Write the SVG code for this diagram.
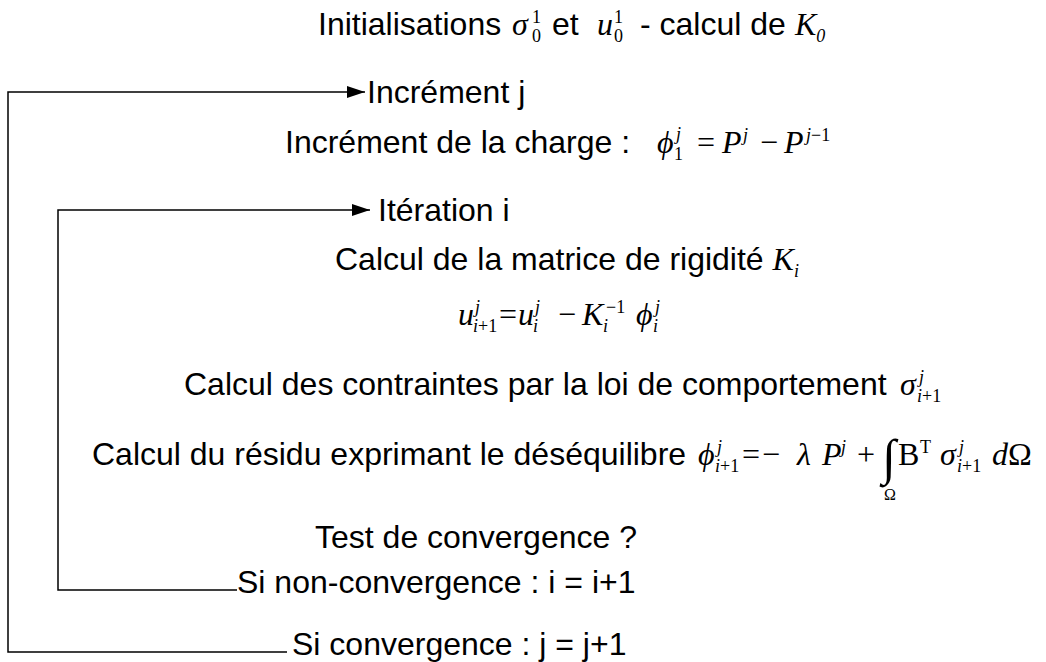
<svg xmlns="http://www.w3.org/2000/svg" width="1046" height="662" viewBox="0 0 1046 662" xml:space="preserve">
<defs>
<style>
text{font-family:'Liberation Sans',Arial,sans-serif;font-size:32px;fill:#000}
.m{font-family:'Liberation Serif','Times New Roman',serif;font-style:italic}
.r{font-family:'Liberation Serif','Times New Roman',serif;font-style:normal}
.s{font-size:18px}
.big{font-family:'Liberation Serif','Times New Roman',serif;font-size:50px}
.line{fill:none;stroke:#000;stroke-width:1.5}
</style>
<marker id="ah" viewBox="0 0 18 12" refX="18" refY="6" markerWidth="18" markerHeight="12" markerUnits="userSpaceOnUse" orient="auto"><path d="M0,0 L18,6 L0,12 z" fill="#000"/></marker>
</defs>
<rect width="1046" height="662" fill="#fff"/>
<g id="connectors">
<path class="line" d="M287,652 H8 V92 H365" marker-end="url(#ah)"/>
<path class="line" d="M237,590 H58 V210 H370" marker-end="url(#ah)"/>
</g>
<g id="init"><text y="35"><tspan x="318">Initialisations</tspan><tspan class="m" x="512">σ</tspan><tspan class="s r" x="532" dy="-12">1</tspan><tspan class="s r" x="532" dy="19">0</tspan><tspan x="552" dy="-7">et</tspan><tspan class="m" x="597">u</tspan><tspan class="s r" x="614" dy="-12">1</tspan><tspan class="s r" x="614" dy="19">0</tspan><tspan x="640" dy="-7">- calcul de</tspan><tspan class="m" x="795">K</tspan><tspan class="s m" dy="7">0</tspan></text></g>
<g id="increment-j"><text x="367" y="103">Incrément j</text></g>
<g id="increment-charge"><text y="153"><tspan x="285">Incrément de la charge :</tspan><tspan class="m" x="657">ϕ</tspan><tspan class="s m" x="676" dy="-13">j</tspan><tspan class="s r" x="674" dy="20">1</tspan><tspan class="r" x="697" dy="-7">=</tspan><tspan class="m" x="722">P</tspan><tspan class="s m" x="743" dy="-12">j</tspan><tspan class="r" x="760" dy="12">−</tspan><tspan class="m" x="784">P</tspan><tspan class="s m" x="806" dy="-12">j</tspan><tspan class="s r">−1</tspan></text></g>
<g id="iteration-i"><text x="378" y="221">Itération i</text></g>
<g id="rigidite"><text x="335" y="270">Calcul de la matrice de rigidité <tspan class="m">K</tspan><tspan class="s m" dy="7">i</tspan></text></g>
<g id="deplacement"><text y="325"><tspan class="m" x="458">u</tspan><tspan class="s m" x="475" dy="-12">j</tspan><tspan class="s m" x="473" dy="19">i</tspan><tspan class="s r">+1</tspan><tspan class="r" x="499" dy="-7">=</tspan><tspan class="m" x="518">u</tspan><tspan class="s m" x="535" dy="-12">j</tspan><tspan class="s m" x="533" dy="19">i</tspan><tspan class="r" x="558" dy="-7">−</tspan><tspan class="m" x="582">K</tspan><tspan class="s r" x="606" dy="-12">−1</tspan><tspan class="s m" x="603" dy="19">i</tspan><tspan class="m" x="636" dy="-7">ϕ</tspan><tspan class="s m" x="655" dy="-12">j</tspan><tspan class="s m" x="653" dy="19">i</tspan></text></g>
<g id="contraintes"><text y="395"><tspan x="184">Calcul des contraintes par la loi de comportement</tspan><tspan class="m" x="900">σ</tspan><tspan class="s m" x="919" dy="-12">j</tspan><tspan class="s m" x="917" dy="19">i</tspan><tspan class="s r">+1</tspan></text></g>
<g id="residu">
<text y="465"><tspan x="92">Calcul du résidu exprimant le déséquilibre</tspan><tspan class="m" x="698">ϕ</tspan><tspan class="s m" x="717" dy="-12">j</tspan><tspan class="s m" x="715" dy="19">i</tspan><tspan class="s r">+1</tspan><tspan class="r" x="742" dy="-7">=</tspan><tspan class="r" x="762">−</tspan><tspan class="m" x="797">λ</tspan><tspan class="m" x="822">P</tspan><tspan class="s m" x="841" dy="-12">j</tspan><tspan class="r" x="857" dy="12">+</tspan></text>
<text class="big" x="882" y="474">∫</text>
<text class="r" style="font-size:16px" x="884" y="500">Ω</text>
<text y="465"><tspan class="r" x="898">B</tspan><tspan class="s r" x="920" dy="-12">T</tspan><tspan class="m" x="940" dy="12">σ</tspan><tspan class="s m" x="959" dy="-12">j</tspan><tspan class="s m" x="957" dy="19">i</tspan><tspan class="s r">+1</tspan><tspan class="m" x="992" dy="-7">d</tspan><tspan class="r">Ω</tspan></text>
</g>
<g id="test"><text x="315" y="548">Test de convergence ?</text></g>
<g id="non-convergence"><text x="237" y="593">Si non-convergence : i = i+1</text></g>
<g id="convergence"><text x="292" y="655">Si convergence : j = j+1</text></g>
</svg>
